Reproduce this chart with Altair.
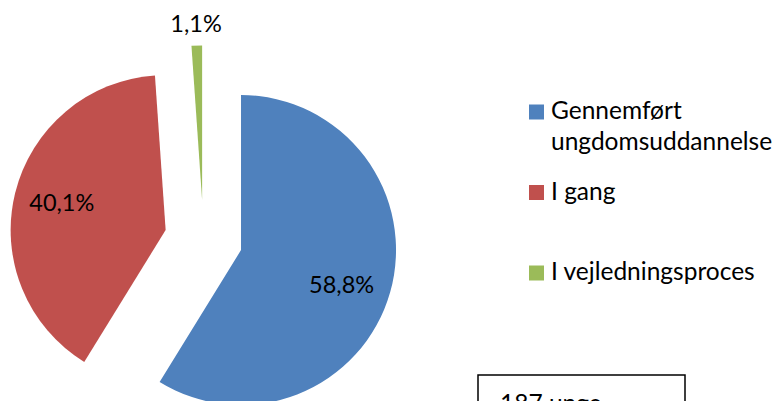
import altair as alt
import pandas as pd

# ---- data ----
categories = ["Gennemført ungdomsuddannelse", "I gang", "I vejledningsproces"]
values = [58.8, 40.1, 1.1]
value_labels = ["58,8%", "40,1%", "1,1%"]
colors = ["#4F81BD", "#C0504D", "#9BBB59"]
legend_line_text = ["Gennemført", "ungdomsuddannelse", "I gang", "I vejledningsproces"]
legend_line_entry = [0, 0, 1, 2]
legend_line_index = [0, 1, 0, 0]
box_text = ["187 unge"]

# ---- layout ----
W, H = 764, 393
CX, CY = 195.5, 231.4
R = 155
EXPLODE = 39
FONT = "Lato"
FS = 23.5
LFS = 24.5
LEG_X, LEG_Y0, LEG_STEP, LINE_H = 528.5, 104, 80.5, 31

pie_df = pd.DataFrame({"category": categories, "value": values,
                       "label": value_labels, "order": list(range(len(values)))})

base = alt.Chart(pie_df).transform_window(
    cum="sum(value)", sort=[alt.SortField("order")], frame=[None, 0]
).transform_calculate(
    start="datum.cum - datum.value",
    mid="(datum.cum - datum.value / 2) / 100 * 2 * PI",
).transform_calculate(
    cx=f"{CX} + {EXPLODE} * sin(datum.mid)",
    cy=f"{CY} - {EXPLODE} * cos(datum.mid)",
    lr=f"datum.value < 5 ? {R + 21} : {0.69 * R}",
    la="datum.mid + (datum.value > 50 ? 0.07 : 0)",
).transform_calculate(
    lx="datum.cx + datum.lr * sin(datum.la)",
    ly="datum.cy - datum.lr * cos(datum.la)",
)

theta_scale = alt.Scale(domain=[0, 100], range=[0, 6.283185307179586])
color_scale = alt.Scale(domain=categories, range=colors)

arcs = base.mark_arc(radius=R, clip=True).encode(
    x=alt.X("cx:Q", scale=None),
    y=alt.Y("cy:Q", scale=None),
    theta=alt.Theta("start:Q", scale=theta_scale, stack=None),
    theta2="cum:Q",
    color=alt.Color("category:N", scale=color_scale, legend=None),
)

labels = base.mark_text(font=FONT, fontSize=FS, color="black",
                        align="center", baseline="middle").encode(
    x=alt.X("lx:Q", scale=None),
    y=alt.Y("ly:Q", scale=None),
    text="label:N",
)

# ---- legend ----
leg_sym_df = pd.DataFrame({"category": categories, "entry": list(range(len(categories)))})
leg_sym = alt.Chart(leg_sym_df).transform_calculate(
    lx=f"{LEG_X}", ly=f"{LEG_Y0} + datum.entry * {LEG_STEP}"
).mark_square(size=225, opacity=1, filled=True).encode(
    x=alt.X("lx:Q", scale=None),
    y=alt.Y("ly:Q", scale=None),
    color=alt.Color("category:N", scale=color_scale, legend=None),
)

leg_txt_df = pd.DataFrame({"text": legend_line_text, "entry": legend_line_entry,
                           "line": legend_line_index})
leg_txt = alt.Chart(leg_txt_df).transform_calculate(
    tx=f"{LEG_X + 14.5}",
    ty=f"{LEG_Y0} + datum.entry * {LEG_STEP} + datum.line * {LINE_H}",
).mark_text(font=FONT, fontSize=LFS, color="black", align="left", baseline="middle").encode(
    x=alt.X("tx:Q", scale=None),
    y=alt.Y("ty:Q", scale=None),
    text="text:N",
)

# ---- box ----
box_df = pd.DataFrame({"text": box_text})
box = alt.Chart(box_df).mark_rect(filled=False, stroke="black", strokeWidth=1.5).encode(
    x=alt.value(470), x2=alt.value(677), y=alt.value(367), y2=alt.value(440),
)
box_label = alt.Chart(box_df).mark_text(font=FONT, fontSize=LFS, color="black",
                                        align="left", baseline="top").encode(
    x=alt.value(492), y=alt.value(385), text="text:N",
)

chart = alt.layer(arcs, labels, leg_sym, leg_txt, box, box_label).properties(
    width=W, height=H, padding=0, autosize="none", background="white"
).configure_view(stroke=None)

chart.save("out.html", embed_options={"renderer": "svg", "actions": False})
